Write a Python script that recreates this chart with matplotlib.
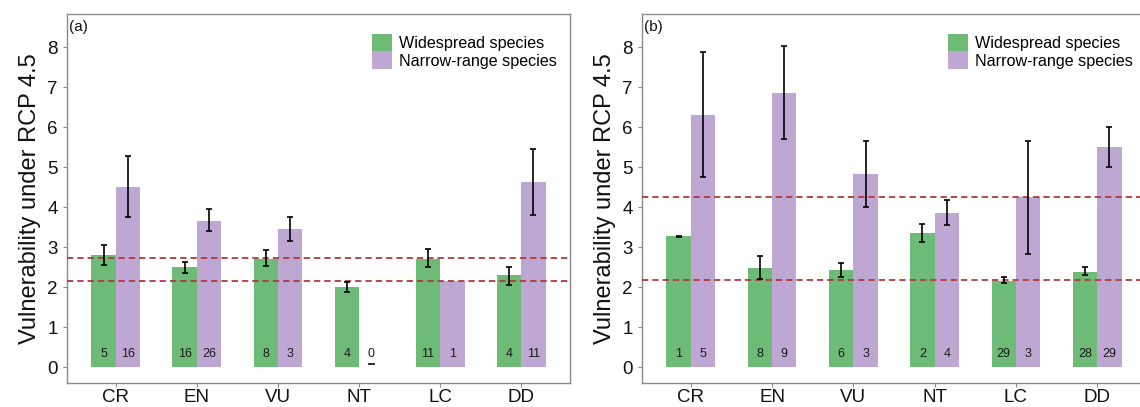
import numpy as np
import matplotlib
matplotlib.use("Agg")
import matplotlib.pyplot as plt
from matplotlib.patches import Patch

plt.rcParams['font.family'] = ['Liberation Sans', 'DejaVu Sans']

categories = ["CR", "EN", "VU", "NT", "LC", "DD"]
series_names = ["Widespread species", "Narrow-range species"]

# Panel (a)
a_wide = [2.79, 2.49, 2.71, 1.99, 2.71, 2.29]
a_wide_lo = [2.56, 2.36, 2.52, 1.88, 2.50, 2.06]
a_wide_hi = [3.04, 2.62, 2.93, 2.12, 2.94, 2.51]
a_narrow = [4.51, 3.66, 3.44, 0.0, 2.14, 4.63]
a_narrow_lo = [3.75, 3.39, 3.14, np.nan, np.nan, 3.81]
a_narrow_hi = [5.28, 3.94, 3.75, np.nan, np.nan, 5.45]
a_n_wide = [5, 16, 8, 4, 11, 4]
a_n_narrow = [16, 26, 3, 0, 1, 11]
a_hlines = [2.72, 2.16]

# Panel (b)
b_wide = [3.27, 2.47, 2.42, 3.35, 2.16, 2.38]
b_wide_lo = [3.26, 2.20, 2.25, 3.13, 2.10, 2.29]
b_wide_hi = [3.28, 2.78, 2.60, 3.58, 2.25, 2.50]
b_narrow = [6.31, 6.85, 4.83, 3.84, 4.25, 5.51]
b_narrow_lo = [4.76, 5.69, 4.00, 3.54, 2.83, 5.01]
b_narrow_hi = [7.87, 8.03, 5.66, 4.18, 5.66, 6.01]
b_n_wide = [1, 8, 6, 2, 29, 28]
b_n_narrow = [5, 9, 3, 4, 3, 29]
b_hlines = [4.26, 2.18]

panel_labels = ["(a)", "(b)"]
ylabel = "Vulnerability under RCP 4.5"

green = "#6dbb77"
purple = "#bea8d3"
dash_col = "#b03a3c"
frame_col = "#8a8a8a"

fig = plt.figure(figsize=(11.4, 4.07), dpi=100)
ax_a = fig.add_axes([67/1140, 24/407, 503/1140, 369/407])
ax_b = fig.add_axes([642/1140, 24/407, 504/1140, 369/407])

def draw(ax, wide, wlo, whi, narrow, nlo, nhi, nw, nn, hl, plabel):
    x = np.arange(1, len(categories) + 1)
    bw = 0.3
    ax.bar(x - bw/2, wide, width=bw, color=green, zorder=2)
    ax.bar(x + bw/2, narrow, width=bw, color=purple, zorder=2)
    for vals, lo, hi, off in [(wide, wlo, whi, -bw/2), (narrow, nlo, nhi, bw/2)]:
        lo = np.array(lo, dtype=float); hi = np.array(hi, dtype=float)
        ok = ~np.isnan(lo)
        v = np.array(vals, dtype=float)
        ax.errorbar(x[ok] + off, v[ok], yerr=[v[ok] - lo[ok], hi[ok] - v[ok]],
                    fmt='none', ecolor='black', elinewidth=1.2, capsize=2.5,
                    capthick=1.2, zorder=4)
    for h in hl:
        ax.axhline(h, color=dash_col, lw=1.3, dashes=(3.5, 2.2), zorder=3)
    for xi, c in zip(x, nw):
        ax.text(xi - bw/2, 0.33, str(c), ha='center', va='center', fontsize=9, color='#1a1a1a', zorder=5)
    for xi, c in zip(x, nn):
        ax.text(xi + bw/2, 0.33, str(c), ha='center', va='center', fontsize=9, color='#1a1a1a', zorder=5)
        if c == 0:
            ax.plot([xi + bw/2 - 0.03, xi + bw/2 + 0.03], [0.08, 0.08], color='#1a1a1a', lw=1.3, zorder=5)
    ax.set_xlim(0.4, 6.6)
    ax.set_ylim(-0.4, 8.825)
    ax.set_xticks(x)
    ax.set_xticklabels(categories)
    ax.set_yticks(range(0, 9))
    ax.tick_params(axis='both', colors=frame_col, labelcolor='#111111', length=3, width=0.8, labelsize=13.5)
    ax.tick_params(axis='x', pad=1.5)
    for s in ax.spines.values():
        s.set_color(frame_col); s.set_linewidth(1.0)
    ax.set_ylabel(ylabel, fontsize=17, color='#111111', labelpad=5)
    ax.text(0.004, 0.985, plabel, transform=ax.transAxes, ha='left', va='top', fontsize=11, color='#111111')
    handles = [Patch(facecolor=green, edgecolor='none'), Patch(facecolor=purple, edgecolor='none')]
    ax.legend(handles, series_names, loc='upper right', bbox_to_anchor=(0.974, 0.946), frameon=False,
              fontsize=11.6, handlelength=1.24, handleheight=1.3, labelspacing=0.0,
              handletextpad=0.45, borderpad=0, borderaxespad=0)

draw(ax_a, a_wide, a_wide_lo, a_wide_hi, a_narrow, a_narrow_lo, a_narrow_hi, a_n_wide, a_n_narrow, a_hlines, panel_labels[0])
draw(ax_b, b_wide, b_wide_lo, b_wide_hi, b_narrow, b_narrow_lo, b_narrow_hi, b_n_wide, b_n_narrow, b_hlines, panel_labels[1])

fig.savefig("out.png", dpi=100)
